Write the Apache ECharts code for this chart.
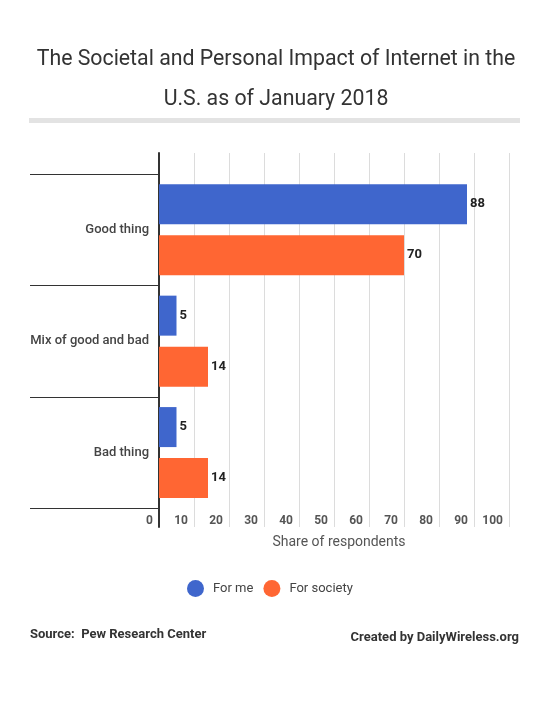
<!DOCTYPE html>
<html>
<head>
<meta charset="utf-8">
<script src="https://cdn.jsdelivr.net/npm/echarts@6/dist/echarts.min.js"></script>
<style>
html,body{margin:0;padding:0;background:#fff;}
#chart{width:550px;height:702px;}
</style>
</head>
<body>
<div id="chart"></div>
<script>
const categories = ['Good thing', 'Mix of good and bad', 'Bad thing'];
const forMe = [88, 5, 5];
const forSociety = [70, 14, 14];
const seriesNames = ['For me', 'For society'];
const xTicks = [0, 10, 20, 30, 40, 50, 60, 70, 80, 90, 100];

const FONT = 'Roboto, "Noto Sans", sans-serif';
const chart = echarts.init(document.getElementById('chart'), null, {renderer: 'canvas'});

const option = {
  backgroundColor: '#fff',
  animation: false,
  title: {
    text: 'The Societal and Personal Impact of Internet in the\nU.S. as of January 2018',
    left: 271,
    textAlign: 'center',
    top: 35,
    textStyle: {
      fontFamily: FONT, fontSize: 21.3, fontWeight: 'normal', color: '#333', lineHeight: 40
    }
  },
  legend: {
    data: seriesNames,
    left: 182,
    top: 575,
    icon: 'circle',
    itemWidth: 17,
    itemHeight: 17,
    itemGap: 10,
    textStyle: { fontFamily: FONT, fontSize: 13, color: '#444', padding: [0, 0, 0, 4] }
  },
  grid: [
    { left: 159, right: 41, top: 153, bottom: 175 },
    { left: 159, right: 41, top: 174, bottom: 193.7 }
  ],
  xAxis: [
    {
      gridIndex: 0, type: 'value', min: xTicks[0], max: xTicks[xTicks.length - 1], interval: 10,
      axisLine: { show: false }, axisTick: { show: false },
      splitLine: { show: true, lineStyle: { color: '#dcdcdc', width: 1 } },
      axisLabel: {
        inside: true, margin: 0, align: 'right', padding: [0, 6, 0, 0],
        fontFamily: FONT, fontSize: 12, fontWeight: 'bold', color: '#555'
      }
    },
    {
      gridIndex: 1, type: 'value', min: xTicks[0], max: xTicks[xTicks.length - 1],
      show: false, splitLine: { show: false }
    }
  ],
  yAxis: [
    {
      gridIndex: 0, type: 'category', data: categories, inverse: true,
      axisLine: { show: true, lineStyle: { color: '#333', width: 2 } },
      axisTick: { show: false }, axisLabel: { show: false }, splitLine: { show: false }
    },
    {
      gridIndex: 1, type: 'category', data: categories, inverse: true,
      axisLine: { show: false },
      axisTick: { show: true, length: 129, lineStyle: { color: '#333', width: 1 } },
      axisLabel: {
        margin: 10, fontFamily: FONT, fontSize: 13, fontWeight: 500, color: '#444'
      }
    }
  ],
  series: [
    {
      name: seriesNames[0], type: 'bar', xAxisIndex: 1, yAxisIndex: 1,
      data: forMe, barWidth: 40, barGap: '27.5%',
      itemStyle: { color: '#3F66CC' },
      label: { show: true, position: 'right', distance: 3, fontFamily: FONT, fontSize: 13, fontWeight: 'bold', color: '#222' }
    },
    {
      name: seriesNames[1], type: 'bar', xAxisIndex: 1, yAxisIndex: 1,
      data: forSociety, barWidth: 40, barGap: '27.5%',
      itemStyle: { color: '#FF6633' },
      label: { show: true, position: 'right', distance: 3, fontFamily: FONT, fontSize: 13, fontWeight: 'bold', color: '#222' }
    }
  ],
  graphic: [
    { type: 'rect', shape: { x: 29, y: 118, width: 491, height: 5 }, style: { fill: '#e3e3e3' }, silent: true },
    { type: 'text', x: 339, y: 542, style: { text: 'Share of respondents', fontFamily: FONT, fontSize: 14, fill: '#555', textAlign: 'center', textVerticalAlign: 'middle' } },
    { type: 'text', x: 30, y: 635, style: { text: 'Source:  Pew Research Center', fontFamily: FONT, fontSize: 13, fontWeight: 'bold', fill: '#333', textAlign: 'left', textVerticalAlign: 'middle' } },
    { type: 'text', x: 519, y: 638, style: { text: 'Created by DailyWireless.org', fontFamily: FONT, fontSize: 13, fontWeight: 'bold', fill: '#333', textAlign: 'right', textVerticalAlign: 'middle' } }
  ]
};
chart.setOption(option);
</script>
</body>
</html>
